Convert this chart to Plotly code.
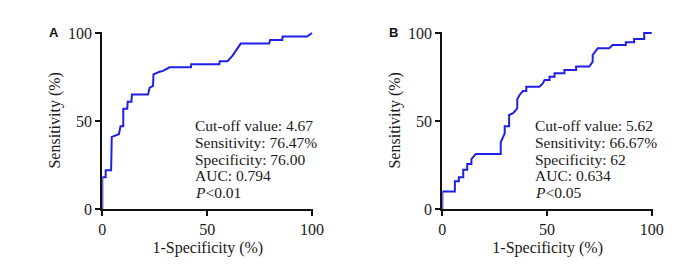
import plotly.graph_objects as go

# Panel A ROC vertices (1-Specificity %, Sensitivity %)
a_fpr = [0, 0, 1.6, 1.6, 4.2, 4.5, 7.9, 8.7, 10.0, 10.0, 11.9, 12.1, 13.9, 14.1, 21.8, 22.6, 24.2, 24.4, 27.3, 29.0,
         32.0, 42.3, 42.4, 55.8, 56.0, 59.7, 62.0, 64.5, 66.0, 79.5, 80.0, 85.8, 86.0, 97.6, 99.5, 100]
a_tpr = [0, 18, 18, 22, 22, 41, 42.5, 47, 47, 57, 57, 61, 61, 65, 65, 69, 70, 76.5, 78, 78.5,
         80.5, 80.5, 82.3, 82.3, 84, 84, 87, 91, 94, 94, 96, 96, 98, 98, 100, 100]

# Panel B ROC vertices
b_fpr = [0, 0, 6.0, 6.0, 7.9, 7.9, 10.0, 10.0, 11.9, 11.9, 13.9, 13.9, 16.0, 27.9, 27.9, 29.8, 29.8, 31.9, 31.9, 33.8,
         35.8, 35.8, 36.9, 38.5, 40.1, 40.1, 46.4, 48.0, 48.8, 51.2, 51.2, 53.6, 53.6, 58.3, 58.3, 63.9, 63.9,
         70.2, 71.8, 71.8, 74.2, 79.7, 81.3, 87.6, 87.6, 91.6, 91.6, 96.4, 96.4, 100]
b_tpr = [0, 10.0, 10.0, 15.7, 15.7, 18.0, 18.0, 22.3, 22.3, 25.6, 25.6, 28.4, 31.3, 31.3, 37.9, 43.0, 47.0, 47.0, 53.4, 54.4,
         57.2, 62.3, 64.8, 67.0, 67.0, 69.5, 69.5, 71.4, 73.3, 73.3, 75.2, 75.2, 77.1, 77.1, 79.0, 79.0, 80.9,
         80.9, 83.7, 87.5, 91.3, 91.3, 93.2, 93.2, 94.7, 94.7, 96.6, 96.6, 100, 100]

x_ticks = [0, 50, 100]
y_ticks = [0, 50, 100]

text_a = ["Cut-off value: 4.67", "Sensitivity: 76.47%", "Specificity: 76.00", "AUC: 0.794", "<i>P</i><0.01"]
text_b = ["Cut-off value: 5.62", "Sensitivity: 66.67%", "Specificity: 62", "AUC: 0.634", "<i>P</i><0.05"]

# page body has an 8px default margin: work in reference pixels and shift
OFF = 8
W, H = 700 - OFF, 265 - OFF
def px(x):
    return (x - OFF) / W
def py(y):
    return 1 - (y - OFF) / H

serif = "Liberation Serif, Times New Roman, serif"
blue = "#1F1FE6"
ink = "#1a1a1a"

fig = go.Figure()
fig.add_trace(go.Scatter(x=a_fpr, y=a_tpr, mode="lines", line=dict(color=blue, width=2),
                         xaxis="x", yaxis="y", showlegend=False, hoverinfo="skip"))
fig.add_trace(go.Scatter(x=b_fpr, y=b_tpr, mode="lines", line=dict(color=blue, width=2),
                         xaxis="x2", yaxis="y2", showlegend=False, hoverinfo="skip"))

ydom = [py(209), py(31.6)]
axis_common = dict(showline=True, linecolor="#111", linewidth=2, ticks="outside", ticklen=5,
                   tickwidth=2, tickcolor="#111", showgrid=False, zeroline=False, automargin=False,
                   tickfont=dict(family=serif, size=16, color=ink),
                   tickvals=x_ticks)
xa = dict(axis_common, range=[0, 100.6], title=dict(text="1-Specificity (%)", standoff=5,
                                                    font=dict(family=serif, size=16, color=ink)))
ya = dict(axis_common, range=[0, 100.8], tickvals=y_ticks,
          title=dict(text="Sensitivity (%)", standoff=3, font=dict(family=serif, size=16, color=ink)))

fig.update_layout(
    width=W, height=H, margin=dict(l=0, r=0, t=0, b=0),
    paper_bgcolor="white", plot_bgcolor="white",
    xaxis=dict(xa, domain=[px(102.3), px(313.3)], anchor="y"),
    yaxis=dict(ya, domain=ydom, anchor="x"),
    xaxis2=dict(xa, domain=[px(442.3), px(653)], anchor="y2"),
    yaxis2=dict(ya, domain=ydom, anchor="x2"),
)

line_y = [126, 142.5, 159, 175.5, 192]
for xl, txt in [(194, text_a), (534, text_b)]:
    for yy, t in zip(line_y, txt):
        fig.add_annotation(x=px(xl), y=py(yy), xref="paper", yref="paper", xanchor="left", yanchor="middle",
                           text=t, showarrow=False, align="left", borderpad=0,
                           font=dict(family=serif, size=15.5, color=ink))

for xl, lab in [(48, "A"), (388, "B")]:
    fig.add_annotation(x=px(xl), y=py(33), xref="paper", yref="paper", xanchor="left", yanchor="middle",
                       text="<b>%s</b>" % lab, showarrow=False, borderpad=0,
                       font=dict(family="Liberation Sans, Arial, sans-serif", size=13, color="#111"))

fig.write_html("out.html")
